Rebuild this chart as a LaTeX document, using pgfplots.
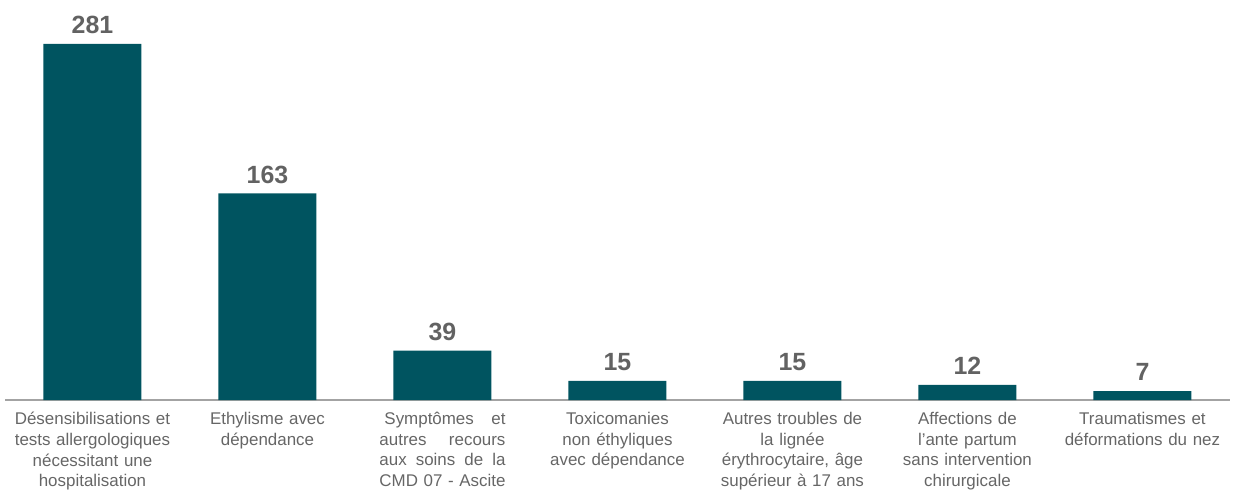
\documentclass[border=0pt]{standalone}
\usepackage{fontspec}
\setmainfont{Liberation Sans}
\usepackage{pgfplots}
\pgfplotsset{compat=1.18}
\usetikzlibrary{calc}
\definecolor{barc}{HTML}{005460}
\definecolor{valc}{HTML}{626262}
\definecolor{labc}{HTML}{666666}
\definecolor{axc}{HTML}{A3A3A3}
\begin{document}
\begin{tikzpicture}
\begin{axis}[
  at={(0,0)}, anchor=south west,
  scale only axis,
  width=1225bp, height=356bp,
  xmin=-0.5, xmax=6.5, ymin=0, ymax=281,
  axis x line*=bottom, axis y line=none,
  x axis line style={-, draw=axc, line width=1.6bp},
  xtick=data,
  major tick length=0pt,
  xticklabels={
    {Désensibilisations et\\tests allergologiques\\nécessitant une\\hospitalisation},
    {Ethylisme avec\\dépendance},
    {\makebox[126bp][l]{\hspace*{5bp}Symptômes\hfill et}\\\makebox[126bp][l]{autres\hfill recours}\\\makebox[126bp][l]{aux\hfill soins\hfill de\hfill la}\\\makebox[126bp][l]{CMD\hfill 07\hfill -\hfill Ascite}},
    {Toxicomanies\\non éthyliques\\avec dépendance},
    {Autres troubles de\\la lignée\\érythrocytaire, âge\\supérieur à 17 ans},
    {Affections de\\l’ante partum\\sans intervention\\chirurgicale},
    {Traumatismes et\\déformations du nez}
  },
  x tick label style={text width=175bp, align=center, inner sep=0pt, yshift=-12bp,
    font=\fontsize{17}{20.8}\selectfont, text=labc, anchor=north},
  ybar, bar width=98bp,
  nodes near coords,
  /pgf/number format/assume math mode=true,
  every node near coord/.append style={font=\bfseries\fontsize{25}{30}\selectfont, text=valc, anchor=south, inner sep=0pt, yshift=10bp},
  clip=false,
]
\addplot[fill=barc, draw=none] coordinates {(0,281) (1,163) (2,39) (3,15) (4,15) (5,12) (6,7)};
\coordinate (O) at (rel axis cs:0,0);
\end{axis}
\pgfresetboundingbox
\useasboundingbox ($(O)+(-5bp,-92bp)$) rectangle ($(O)+(1233bp,400bp)$);
\end{tikzpicture}
\end{document}
